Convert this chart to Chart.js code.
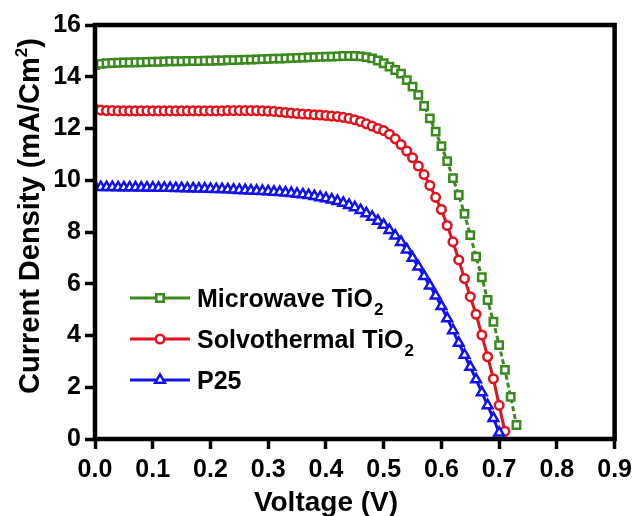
<!DOCTYPE html>
<html>
<head>
<meta charset="utf-8">
<title>J-V curves</title>
<script src="https://cdn.jsdelivr.net/npm/chart.js@4.4.0/dist/chart.umd.min.js"></script>
<style>
  html, body { margin: 0; padding: 0; background: #fff; }
  #wrap { width: 638px; height: 516px; position: relative; }
</style>
</head>
<body>
<div id="wrap"><canvas id="jvChart"></canvas></div>
<script>
// voltage sweep (V), shared by all three cells
const voltage = [
  0.00, 0.01, 0.02, 0.03, 0.04, 0.05, 0.06, 0.07, 0.08, 0.09,
  0.10, 0.11, 0.12, 0.13, 0.14, 0.15, 0.16, 0.17, 0.18, 0.19,
  0.20, 0.21, 0.22, 0.23, 0.24, 0.25, 0.26, 0.27, 0.28, 0.29,
  0.30, 0.31, 0.32, 0.33, 0.34, 0.35, 0.36, 0.37, 0.38, 0.39,
  0.40, 0.41, 0.42, 0.43, 0.44, 0.45, 0.46, 0.47, 0.48, 0.49,
  0.50, 0.51, 0.52, 0.53, 0.54, 0.55, 0.56, 0.57, 0.58, 0.59,
  0.60, 0.61, 0.62, 0.63, 0.64, 0.65, 0.66, 0.67, 0.68, 0.69,
  0.70, 0.71, 0.72, 0.73
];

// current density (mA/cm2)
const microwaveJ = [
  14.45, 14.50, 14.52, 14.53, 14.54, 14.55, 14.55, 14.56, 14.56, 14.57,
  14.58, 14.58, 14.59, 14.60, 14.60, 14.60, 14.61, 14.61, 14.61, 14.62,
  14.62, 14.63, 14.63, 14.64, 14.64, 14.65, 14.66, 14.66, 14.67, 14.68,
  14.69, 14.70, 14.70, 14.71, 14.72, 14.73, 14.74, 14.75, 14.76, 14.77,
  14.78, 14.78, 14.79, 14.80, 14.80, 14.80, 14.79, 14.76, 14.71, 14.63,
  14.52, 14.39, 14.26, 14.12, 13.87, 13.62, 13.30, 12.87, 12.39, 11.88,
  11.32, 10.74, 10.08, 9.43, 8.70, 7.88, 7.05, 6.25, 5.37, 4.53,
  3.63, 2.67, 1.63, 0.54
];

const solvothermalJ = [
  12.76, 12.71, 12.69, 12.69, 12.68, 12.68, 12.68, 12.68, 12.68, 12.68,
  12.68, 12.68, 12.68, 12.68, 12.68, 12.68, 12.68, 12.68, 12.68, 12.68,
  12.68, 12.68, 12.68, 12.69, 12.69, 12.69, 12.69, 12.69, 12.69, 12.68,
  12.67, 12.66, 12.64, 12.62, 12.60, 12.58, 12.56, 12.55, 12.53, 12.52,
  12.50, 12.48, 12.46, 12.43, 12.39, 12.34, 12.27, 12.18, 12.09, 12.00,
  11.92, 11.78, 11.60, 11.38, 11.13, 10.87, 10.55, 10.22, 9.80, 9.34,
  8.87, 8.25, 7.62, 6.92, 6.20, 5.50, 4.82, 4.02, 3.18, 2.33,
  1.30, 0.30
];

const p25J = [
  9.75, 9.73, 9.73, 9.73, 9.72, 9.72, 9.72, 9.72, 9.71, 9.71,
  9.71, 9.70, 9.70, 9.70, 9.69, 9.69, 9.68, 9.68, 9.67, 9.67,
  9.66, 9.65, 9.65, 9.64, 9.63, 9.62, 9.61, 9.60, 9.59, 9.58,
  9.57, 9.55, 9.54, 9.52, 9.50, 9.47, 9.45, 9.42, 9.38, 9.34,
  9.30, 9.25, 9.19, 9.12, 9.04, 8.95, 8.84, 8.72, 8.58, 8.43,
  8.27, 8.07, 7.86, 7.61, 7.32, 7.00, 6.66, 6.29, 5.92, 5.54,
  5.13, 4.66, 4.20, 3.71, 3.25, 2.78, 2.30, 1.80, 1.30, 0.80,
  0.24
];

const xTicks = [0.0, 0.1, 0.2, 0.3, 0.4, 0.5, 0.6, 0.7, 0.8, 0.9];
const yTicks = [0, 2, 4, 6, 8, 10, 12, 14, 16];

const GREEN = '#3a8a1e';
const RED = '#e0141e';
const BLUE = '#1212f0';
const FONT = '"Liberation Sans", Arial, sans-serif';

function pairs(ys) {
  return ys.map((y, i) => ({ x: voltage[i], y: y }));
}

const series = [
  { name: 'Microwave TiO', sub: '2', data: microwaveJ, color: GREEN, style: 'rect', radius: 5.2, dash: [5, 3] },
  { name: 'Solvothermal TiO', sub: '2', data: solvothermalJ, color: RED, style: 'circle', radius: 4.3, dash: [] },
  { name: 'P25', sub: '', data: p25J, color: BLUE, style: 'triangle', radius: 5.6, dash: [] }
];

// box round the plot area
const frame = {
  id: 'frame',
  afterDatasetsDraw(chart) {
    const a = chart.chartArea, ctx = chart.ctx;
    ctx.save();
    ctx.strokeStyle = '#000';
    ctx.lineWidth = 4.5;
    ctx.strokeRect(a.left, a.top, a.right - a.left, a.bottom - a.top);
    ctx.restore();
  }
};

// axis titles and the legend with subscripts
const labels = {
  id: 'labels',
  afterDraw(chart) {
    const ctx = chart.ctx;
    ctx.save();
    ctx.fillStyle = '#000';

    // x title
    ctx.font = 'bold 28px ' + FONT;
    ctx.textAlign = 'center';
    ctx.textBaseline = 'alphabetic';
    ctx.fillText('Voltage (V)', 326, 511);

    // y title, rotated, with superscript 2
    const main = 'Current Density (mA/Cm';
    ctx.font = 'bold 29px ' + FONT;
    const w1 = ctx.measureText(main).width;
    const w3 = ctx.measureText(')').width;
    ctx.font = 'bold 17px ' + FONT;
    const w2 = ctx.measureText('2').width;
    const total = w1 + w2 + w3;
    ctx.translate(39, 216);
    ctx.rotate(-Math.PI / 2);
    ctx.textAlign = 'left';
    const x0 = -total / 2;
    ctx.font = 'bold 29px ' + FONT;
    ctx.fillText(main, x0, 0);
    ctx.font = 'bold 17px ' + FONT;
    ctx.fillText('2', x0 + w1, -12);
    ctx.font = 'bold 29px ' + FONT;
    ctx.fillText(')', x0 + w1 + w2, 0);
    ctx.setTransform(1, 0, 0, 1, 0, 0);

    // legend
    const rows = [298, 339, 380];
    series.forEach((s, i) => {
      const y = rows[i];
      ctx.strokeStyle = s.color;
      ctx.lineWidth = 3;
      ctx.setLineDash([]);
      ctx.beginPath();
      ctx.moveTo(130, y);
      ctx.lineTo(190, y);
      ctx.stroke();
      ctx.fillStyle = '#fff';
      ctx.lineWidth = 2.5;
      Chart.helpers.drawPoint(ctx, { pointStyle: s.style, radius: s.radius, rotation: 0, borderWidth: 2.5 }, 160, y);

      ctx.fillStyle = '#000';
      ctx.textAlign = 'left';
      ctx.font = 'bold 25px ' + FONT;
      ctx.fillText(s.name, 197, y + 9);
      if (s.sub) {
        const w = ctx.measureText(s.name).width;
        ctx.font = 'bold 17px ' + FONT;
        ctx.fillText(s.sub, 197 + w + 1, y + 17);
      }
    });
    ctx.restore();
  }
};

const ctx = document.getElementById('jvChart').getContext('2d');
new Chart(ctx, {
  type: 'line',
  data: {
    datasets: series.map(s => ({
      label: s.name + s.sub,
      data: pairs(s.data),
      borderColor: s.color,
      borderWidth: 3,
      borderDash: s.dash,
      pointStyle: s.style,
      pointRadius: s.radius,
      pointBorderWidth: 2.5,
      pointBorderColor: s.color,
      pointBackgroundColor: '#fff',
      tension: 0,
      fill: false
    })).reverse()
  },
  options: {
    responsive: true,
    maintainAspectRatio: false,
    animation: false,
    layout: { padding: { top: 25, right: 20, left: 0, bottom: 0 } },
    plugins: {
      legend: { display: false },
      tooltip: { enabled: false }
    },
    scales: {
      x: {
        type: 'linear',
        min: 0,
        max: 0.9,
        afterBuildTicks: scale => { scale.ticks = xTicks.map(v => ({ value: v })); },
        afterFit: scale => { scale.height = 77; },
        border: { display: false },
        grid: { drawOnChartArea: false, drawTicks: true, tickLength: 10, tickWidth: 3.5, color: '#000' },
        ticks: {
          color: '#000',
          padding: 6,
          maxRotation: 0,
          font: { family: FONT, size: 25, weight: 'bold' },
          callback: v => v.toFixed(1)
        }
      },
      y: {
        min: 0,
        max: 16,
        afterBuildTicks: scale => { scale.ticks = yTicks.map(v => ({ value: v })); },
        afterFit: scale => { scale.width = 95; },
        border: { display: false },
        grid: { drawOnChartArea: false, drawTicks: true, tickLength: 10, tickWidth: 3.5, color: '#000' },
        ticks: {
          color: '#000',
          padding: 4,
          font: { family: FONT, size: 25, weight: 'bold' }
        }
      }
    }
  },
  plugins: [frame, labels]
});
</script>
</body>
</html>
